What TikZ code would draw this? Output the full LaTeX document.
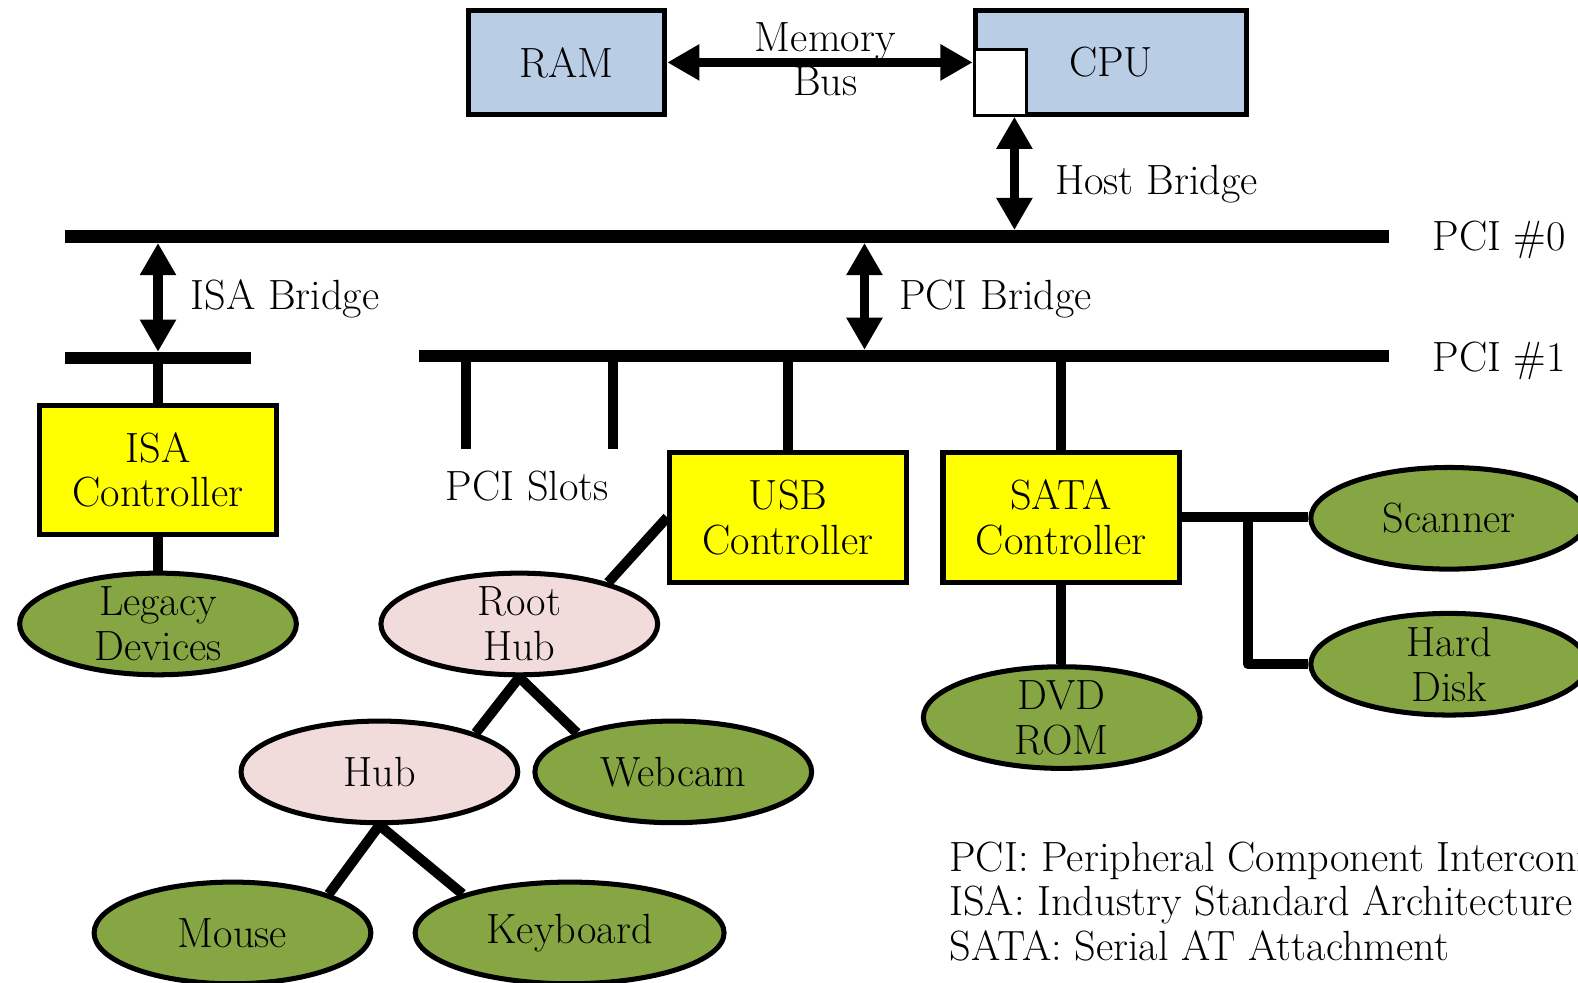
\documentclass[tikz,border=0pt]{standalone}
\usetikzlibrary{arrows.meta,shapes.geometric,backgrounds}
\definecolor{ramblue}{HTML}{B9CDE5}
\definecolor{ctlyellow}{HTML}{FFFF00}
\definecolor{devgreen}{HTML}{86A644}
\definecolor{hubpink}{HTML}{F2DCDB}
\newcommand\diagfont{\fontsize{21}{22.2}\selectfont}
\begin{document}
\begin{tikzpicture}[x=0.5pt,y=-0.5pt,
  every node/.style={font=\diagfont},
  membox/.style={draw, line width=2.5pt, fill=ramblue, inner sep=0pt, minimum height=51.5pt},
  ctlbox/.style={draw, line width=2.5pt, fill=ctlyellow, align=center, inner sep=0pt,
                 minimum width=117.5pt, minimum height=64.5pt},
  dev/.style={ellipse, draw, line width=2.5pt, fill=devgreen, inner sep=0pt,
              minimum width=137.5pt, minimum height=50.5pt},
  hubnode/.style={dev, fill=hubpink},
  bus/.style={fill=black, inner sep=0pt, minimum height=6pt},
  link/.style={line width=5pt},
  biarrow/.style={line width=4.5pt,
     {Triangle[width=17pt,length=16pt]}-{Triangle[width=17pt,length=16pt]}},
  txt/.style={inner sep=0pt, align=center}
]
\useasboundingbox (0,0) rectangle (1568,976);

% memory and processor
\node[membox, minimum width=97.5pt] (ram) at (563,62) {RAM};
\node[membox, minimum width=134.5pt] (cpu) at (1104,62) {CPU};
\node[draw, line width=1.5pt, fill=white, inner sep=0pt,
      minimum width=26pt, minimum height=33pt] (port) at (994,82) {};

% buses
\node[bus, minimum width=657.5pt] (pci0) at (722.5,235) {};
\node[bus, minimum width=92pt] (isabus) at (157,356) {};
\node[bus, minimum width=482pt] (pci1) at (898,354) {};
\node[anchor=base west, inner sep=0pt] (pci0t) at (1423,249) {PCI \#0};
\node[anchor=base west, inner sep=0pt] (pci1t) at (1423,369) {PCI \#1};

% bridges
\coordinate (hbx) at (1008,0);
\coordinate (isax) at (157,0);
\coordinate (pcbx) at (859,0);
\draw[biarrow] (ram.east) -- (ram.east -| port.west);
\node[txt] (membus) at (820,59) {Memory\\Bus};
\draw[biarrow] (cpu.south -| hbx) -- (pci0.north -| hbx);
\node[anchor=base west, inner sep=0pt] (hbt) at (1048,193) {Host Bridge};
\draw[biarrow] (pci0.south -| isax) -- (isabus.north -| isax);
\node[anchor=base west, inner sep=0pt] (isat) at (189,308) {ISA Bridge};
\draw[biarrow] (pci0.south -| pcbx) -- (pci1.north -| pcbx);
\node[anchor=base west, inner sep=0pt] (pcit) at (893,308) {PCI Bridge};

% controllers
\node[ctlbox] (isactl) at (157,467) {ISA\\Controller};
\node[ctlbox] (usb) at (783,514) {USB\\Controller};
\node[ctlbox] (sata) at (1054.5,514) {SATA\\Controller};

% slots
\coordinate (slota) at (463,446);
\coordinate (slotb) at (609,446);
\node[anchor=base, inner sep=0pt] (slott) at (524,497) {PCI Slots};

% devices
\node[dev] (legacy) at (157,620) {};
\node[txt] (legacyt) at (legacy) {Legacy\\Devices};
\node[hubnode] (roothub) at (516,620) {};
\node[txt] (roothubt) at (roothub) {Root\\Hub};
\node[hubnode] (hub) at (377,767) {Hub};
\node[dev] (webcam) at (669,767) {Webcam};
\node[dev] (mouse) at (231,927) {Mouse};
\node[dev, minimum width=153.5pt] (keyboard) at (566,927) {Keyboard};
\node[dev] (dvd) at (1055,713) {};
\node[txt] (dvdt) at (dvd) {DVD\\ROM};
\node[dev] (scanner) at (1440,515) {Scanner};
\node[dev] (hdd) at (1440,660) {};
\node[txt] (hddt) at (hdd) {Hard\\Disk};
\coordinate (satabr) at (1240,0);

\begin{pgfonlayer}{background}
  \draw[link] (isactl.north |- isabus) -- (isactl.north);
  \draw[link] (usb.north |- pci1) -- (usb.north);
  \draw[link] (sata.north |- pci1) -- (sata.north);
  \draw[link] (slota |- pci1) -- (slota);
  \draw[link] (slotb |- pci1) -- (slotb);
  \draw[link] (isactl.south) -- (legacy.north);
  \draw[link] (sata.south) -- (sata.south |- dvd.north);
  \draw[link] (sata.east) -- (sata.east -| scanner.west);
  \draw[link, line join=round] (sata.east -| satabr) -- (hdd.west -| satabr) -- (hdd.west);
  \draw[link] (usb.west) -- (roothub.25);
  \draw[link] (roothub.south) -- (hub.22);
  \draw[link] (roothub.south) -- (webcam.158);
  \draw[link] (hub.south) -- (mouse.22);
  \draw[link] (hub.south) -- (keyboard.160);
\end{pgfonlayer}

% legend
\node[anchor=base west, inner sep=0pt] (leg1) at (943,866) {PCI: Peripheral Component Interconnect};
\node[anchor=base west, inner sep=0pt] (leg2) at (943,910) {ISA: Industry Standard Architecture};
\node[anchor=base west, inner sep=0pt] (leg3) at (943,954) {SATA: Serial AT Attachment};
\end{tikzpicture}
\end{document}
